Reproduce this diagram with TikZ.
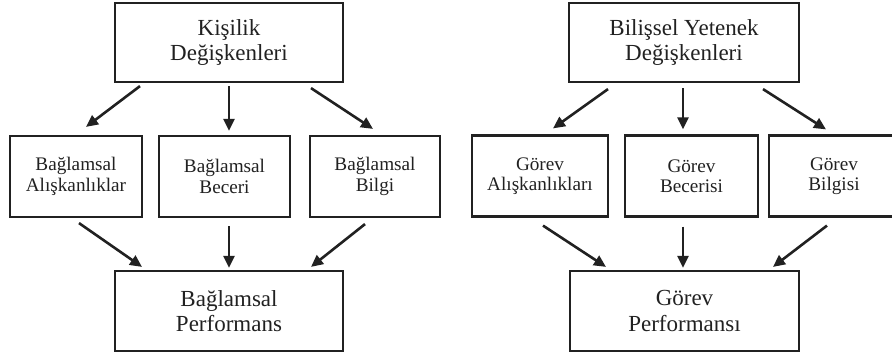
\documentclass[tikz,border=0pt]{standalone}
\usepackage{fontspec}
\setmainfont{Liberation Serif}
\usetikzlibrary{arrows.meta}
\definecolor{ink}{gray}{0.13}
\tikzset{
  bigbox/.style={draw=ink, line width=2.2pt, minimum height=79pt, inner sep=0pt,
    align=center, font=\fontsize{23}{25.5}\selectfont, text=ink},
  smallbox/.style={draw=ink, line width=2.2pt, minimum height=81pt, inner sep=0pt,
    align=center, font=\fontsize{19.2}{20.5}\selectfont, text=ink},
  arr/.style={line width=2.6pt, draw=ink,
    -{Triangle[length=12pt,width=11pt]}}
}
\begin{document}
\begin{tikzpicture}[x=1pt,y=-1pt]
\useasboundingbox (0,0) rectangle (892,358);

% contextual performance side
\node[bigbox, minimum width=228pt] (t1) at (229,42.5) {Kişilik\\Değişkenleri};
\node[smallbox, minimum width=132pt] (b1) at (76,176.5) {Bağlamsal\\Alışkanlıklar};
\node[smallbox, minimum width=131pt] (b2) at (224.5,176.5) {Bağlamsal\\Beceri};
\node[smallbox, minimum width=130pt] (b3) at (375,176.5) {Bağlamsal\\Bilgi};
\node[bigbox, minimum width=228pt, minimum height=80pt] (p1) at (229,311) {Bağlamsal\\Performans};

\draw[arr] ([xshift=-89pt,yshift=-3pt]t1.south) -- ([xshift=10pt,yshift=8pt]b1.north);
\draw[arr] ([yshift=-3pt]t1.south) -- ([xshift=4.5pt,yshift=4pt]b2.north);
\draw[arr] ([xshift=82pt,yshift=-5pt]t1.south) -- ([xshift=-2pt,yshift=6pt]b3.north);
\draw[arr] ([xshift=3pt,yshift=-5pt]b1.south) -- ([xshift=-87pt,yshift=3pt]p1.north);
\draw[arr] ([xshift=4.5pt,yshift=-8pt]b2.south) -- ([yshift=2pt]p1.north);
\draw[arr] ([xshift=-10pt,yshift=-6pt]b3.south) -- ([xshift=82pt,yshift=3pt]p1.north);

% task performance side
\node[bigbox, minimum width=230pt] (t2) at (684,42.5) {Bilişsel Yetenek\\Değişkenleri};
\node[smallbox, minimum width=136pt] (c1) at (540,176) {Görev\\Alışkanlıkları};
\node[smallbox, minimum width=133pt] (c2) at (691.5,176) {Görev\\Becerisi};
\node[smallbox, minimum width=130pt] (c3) at (834,176) {Görev\\Bilgisi};
\node[bigbox, minimum width=229pt, minimum height=80pt] (p2) at (684.5,311) {Görev\\Performansı};

\draw[arr] ([xshift=-76pt,yshift=-6pt]t2.south) -- ([xshift=13pt,yshift=6pt]c1.north);
\draw[arr] ([xshift=-1pt,yshift=-5pt]t2.south) -- ([xshift=-8.5pt,yshift=5pt]c2.north);
\draw[arr] ([xshift=79pt,yshift=-6pt]t2.south) -- ([xshift=-8pt,yshift=5pt]c3.north);
\draw[arr] ([xshift=3pt,yshift=-8pt]c1.south) -- ([xshift=-78.5pt,yshift=3pt]p2.north);
\draw[arr] ([xshift=-8.5pt,yshift=-9pt]c2.south) -- ([xshift=-1.5pt,yshift=2pt]p2.north);
\draw[arr] ([xshift=-7pt,yshift=-8pt]c3.south) -- ([xshift=88.5pt,yshift=3pt]p2.north);
\end{tikzpicture}
\end{document}
